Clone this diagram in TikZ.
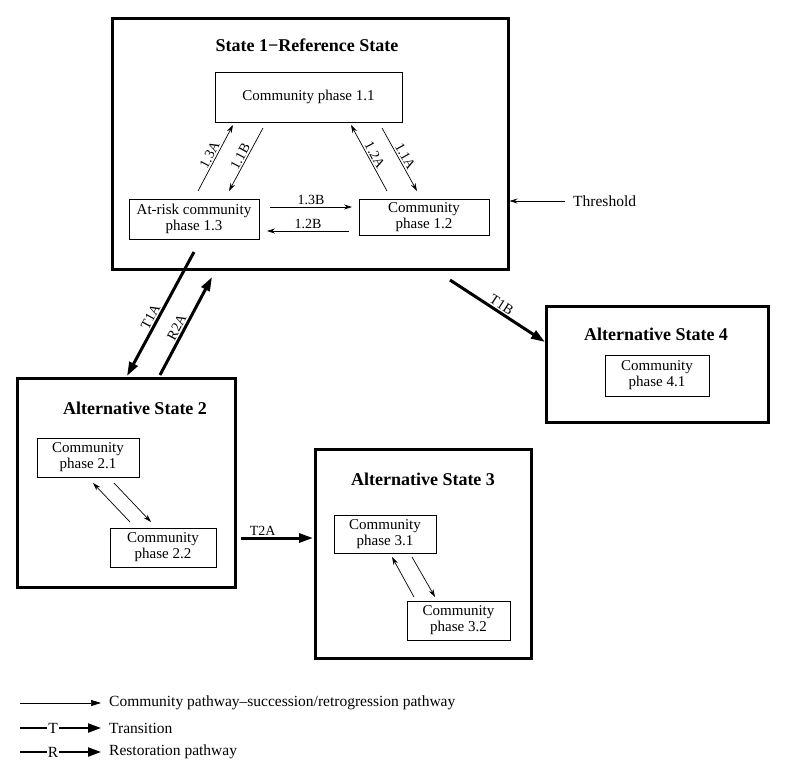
\documentclass[tikz,border=0pt]{standalone}
\usepackage{fontspec}
\setmainfont{Liberation Serif}
\usetikzlibrary{arrows.meta,shadows}
\begin{document}
\begin{tikzpicture}[x=1pt,y=-1pt,
  state/.style={draw,line width=2.5pt,fill=white,drop shadow={opacity=0.35,shadow xshift=2pt,shadow yshift=-2pt}},
  phase/.style={draw,line width=0.6pt,fill=white,align=center,font=\fontsize{15}{16}\selectfont,inner sep=0pt},
  ttl/.style={font=\bfseries\fontsize{18}{19}\selectfont},
  thin/.style={-{Stealth[length=8pt,width=5pt]},line width=0.7pt},
  thick/.style={-{Triangle[length=14pt,width=9pt]},line width=3pt},
  lab/.style={font=\fontsize{14}{15}\selectfont,inner sep=1.5pt},
  leg/.style={font=\fontsize{15.5}{16}\selectfont,inner sep=1pt}]
\useasboundingbox (0,0) rectangle (800,764);
\fill[white] (0,0) rectangle (800,764);
% states
\node[state,minimum width=396pt,minimum height=251pt,anchor=north west] (s1) at (111,17) {};
\node[state,minimum width=218pt,minimum height=209pt,anchor=north west] (s2) at (16,377) {};
\node[state,minimum width=216pt,minimum height=209pt,anchor=north west] (s3) at (314,448) {};
\node[state,minimum width=222pt,minimum height=116pt,anchor=north west] (s4) at (545,305) {};
\node[ttl] (t1) at (307,45) {State 1−Reference State};
\node[ttl] (t2) at (135,408) {Alternative State 2};
\node[ttl] (t3) at (423,479) {Alternative State 3};
\node[ttl] (t4) at (656,334) {Alternative State 4};
% phases
\node[phase,minimum width=187pt,minimum height=50pt] (p11) at (308.5,97) {Community phase 1.1};
\node[phase,minimum width=130pt,minimum height=40pt] (p13) at (194,219) {At-risk community\\phase 1.3};
\node[phase,minimum width=130pt,minimum height=36pt] (p12) at (424,217) {Community\\phase 1.2};
\node[phase,minimum width=102pt,minimum height=39pt] (p21) at (88,457.5) {Community\\phase 2.1};
\node[phase,minimum width=106pt,minimum height=39pt] (p22) at (163,547.5) {Community\\phase 2.2};
\node[phase,minimum width=102pt,minimum height=38pt] (p31) at (385,534) {Community\\phase 3.1};
\node[phase,minimum width=103pt,minimum height=39pt] (p32) at (458.5,620.5) {Community\\phase 3.2};
\node[phase,minimum width=104pt,minimum height=41pt] (p41) at (657,375.5) {Community\\phase 4.1};
% inner coordinates
\coordinate (a1) at (198,191); \coordinate (a2) at (233,125);
\coordinate (b1) at (263,128); \coordinate (b2) at (229,191);
\coordinate (c1) at (387,191); \coordinate (c2) at (351,125);
\coordinate (d1) at (382,128); \coordinate (d2) at (417,191);
\draw[thin] (a1) -- node[lab,sloped,above] {1.3A} (a2);
\draw[thin] (b1) -- node[lab,sloped,above] {1.1B} (b2);
\draw[thin] (c1) -- node[lab,sloped,above] {1.2A} (c2);
\draw[thin] (d1) -- node[lab,sloped,above] {1.1A} (d2);
\coordinate (e1) at (270,207); \coordinate (e2) at (352,207);
\coordinate (f1) at (349,231); \coordinate (f2) at (267,231);
\draw[thin] (e1) -- node[lab,above] {1.3B} (e2);
\draw[thin] (f1) -- node[lab,above] {1.2B} (f2);
% threshold
\coordinate (th) at (565,201);
\node[leg,anchor=west] (thl) at (572,201) {Threshold};
\draw[thin] (th) -- (s1.east |- th);
% phase 2 and 3 arrows
\coordinate (g1) at (130,522); \coordinate (g2) at (93,483);
\coordinate (h1) at (114,483); \coordinate (h2) at (151,522);
\draw[thin] (g1) -- (g2); \draw[thin] (h1) -- (h2);
\coordinate (i1) at (414,597); \coordinate (i2) at (392,557);
\coordinate (j1) at (412,557); \coordinate (j2) at (435,597);
\draw[thin] (i1) -- (i2); \draw[thin] (j1) -- (j2);
% transitions
\coordinate (k1) at (194,252); \coordinate (k2) at (127,376);
\draw[thick] (k1) -- node[lab,sloped,above,pos=0.55] {T1A} (k2);
\coordinate (l1) at (160,375); \coordinate (l2) at (212,277);
\draw[thick] (l1) -- node[lab,sloped,above,pos=0.45] {R2A} (l2);
\coordinate (m1) at (450,280); \coordinate (m2) at (545,342);
\draw[thick] (m1) -- node[lab,sloped,above] {T1B} (m2);
\coordinate (n1) at (241,538); \coordinate (n2) at (313,538);
\draw[thick] (n1) -- node[lab,above,pos=0.3] {T2A} (n2);
% legend
\coordinate (q1) at (20,703); \coordinate (q2) at (101,703);
\draw[line width=0.7pt,-{Triangle[length=10pt,width=6pt]}] (q1) -- (q2);
\node[leg,anchor=west] (lq) at (108,703) {Community pathway--succession/retrogression pathway};
\node[leg] (lt) at (53,728) {T};
\coordinate (r1) at (20,728); \coordinate (r2) at (101,728);
\draw[line width=2pt] (r1) -- (lt.west);
\draw[line width=2pt,-{Triangle[length=13pt,width=9pt]}] (lt.east) -- (r2);
\node[leg,anchor=west] (ltt) at (108,728) {Transition};
\node[leg] (lr) at (53,752) {R};
\coordinate (u1) at (20,752); \coordinate (u2) at (101,752);
\draw[line width=2pt] (u1) -- (lr.west);
\draw[line width=2pt,-{Triangle[length=13pt,width=9pt]}] (lr.east) -- (u2);
\node[leg,anchor=west] (lrr) at (108,752) {Restoration pathway};
\end{tikzpicture}
\end{document}
